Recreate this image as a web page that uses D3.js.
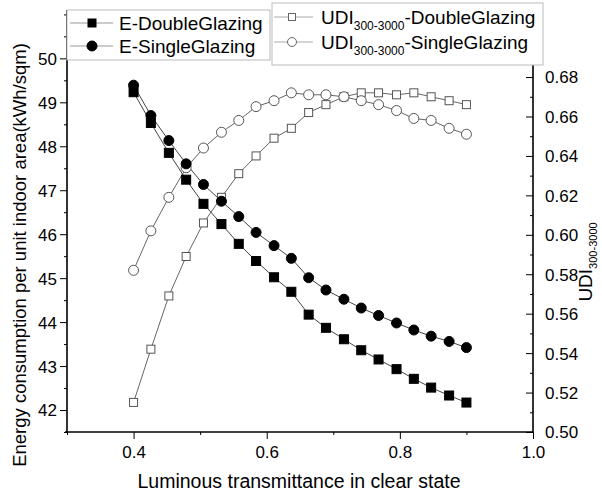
<!DOCTYPE html>
<html><head><meta charset="utf-8">
<script src="https://cdn.jsdelivr.net/npm/d3@7"></script>
<style>body{margin:0;background:#fff}svg{font-family:"Liberation Sans",Arial,sans-serif}</style>
</head><body><svg id="c" width="602" height="494"></svg>
<script>
const xVals = [0.400,0.426,0.453,0.479,0.505,0.532,0.558,0.584,0.611,0.637,0.663,0.689,0.716,0.742,0.768,0.795,0.821,0.847,0.874,0.900];
const eDouble = [49.23,48.53,47.85,47.24,46.69,46.23,45.78,45.39,45.02,44.69,44.17,43.87,43.61,43.36,43.15,42.93,42.71,42.51,42.33,42.17];
const eSingle = [49.39,48.70,48.13,47.60,47.13,46.75,46.40,46.04,45.74,45.45,45.01,44.73,44.52,44.32,44.15,43.98,43.82,43.68,43.56,43.42];
const udiDouble = [0.515,0.542,0.569,0.589,0.606,0.619,0.631,0.640,0.649,0.654,0.662,0.666,0.670,0.672,0.672,0.671,0.672,0.670,0.668,0.666];
const udiSingle = [0.582,0.602,0.619,0.634,0.644,0.652,0.658,0.665,0.668,0.672,0.671,0.671,0.670,0.668,0.666,0.663,0.659,0.658,0.654,0.651];
const xTicks = [0.4,0.6,0.8,1.0];
const leftTicks = [42,43,44,45,46,47,48,49,50];
const rightTicks = [0.50,0.52,0.54,0.56,0.58,0.60,0.62,0.64,0.66,0.68];
const xTitle = "Luminous transmittance in clear state";
const yTitle = "Energy consumption per unit indoor area(kWh/sqm)";

const svg = d3.select("#c");
const L=67,R=533,T=10,B=432;
const x = d3.scaleLinear().domain([0.3,1.0]).range([L,R]);
const yL = d3.scaleLinear().domain([41.5,51.1]).range([B,T]);
const yR = d3.scaleLinear().domain([0.5,0.714]).range([B,T]);
const isMajorX = d=>xTicks.some(t=>Math.abs(t-d)<1e-6);

// bottom axis
const gx = svg.append("g").attr("transform",`translate(0,${B})`);
gx.call(d3.axisBottom(x).tickValues(d3.range(0.3,1.001,0.1)).tickSize(3).tickFormat(""));
gx.selectAll(".tick").filter(isMajorX).select("line").attr("y2",7);
gx.selectAll(".tick").filter(isMajorX).append("text")
  .attr("y",26).attr("fill","#000").attr("font-size",17).attr("text-anchor","middle").text(d=>d.toFixed(1));
gx.select(".domain").attr("stroke-width",1.6).attr("d",`M${L-2},0H${R}`);

// left axis
const gl = svg.append("g").attr("transform",`translate(${L},0)`);
gl.call(d3.axisLeft(yL).tickValues(d3.range(41.5,51.01,0.5)).tickSize(3).tickFormat(""));
const isInt = d=>Math.abs(d-Math.round(d))<1e-6 && leftTicks.includes(Math.round(d));
gl.selectAll(".tick").filter(isInt).select("line").attr("x2",-7);
gl.selectAll(".tick").filter(isInt).append("text")
  .attr("x",-10).attr("dy","0.35em").attr("fill","#000").attr("font-size",17).attr("text-anchor","end").text(d=>Math.round(d));
gl.select(".domain").attr("stroke-width",1.6).attr("d",`M0,${T}V${B+1}`);

// right axis (ticks inward)
const isMajorR = d=>rightTicks.some(t=>Math.abs(t-d)<1e-6);
const gr = svg.append("g").attr("transform",`translate(${R},0)`);
gr.call(d3.axisRight(yR).tickValues(d3.range(0,19).map(i=>0.5+i*0.01)).tickSize(-3).tickFormat(""));
gr.selectAll(".tick").filter(isMajorR).select("line").attr("x2",-7);
gr.selectAll(".tick").filter(isMajorR).append("text")
  .attr("x",12).attr("dy","0.35em").attr("fill","#000").attr("font-size",17).attr("text-anchor","start").text(d=>d.toFixed(2));
gr.select(".domain").attr("stroke-width",1.6).attr("d",`M0,${T}V${B+1}`);

// lines
const data = (ys)=>xVals.map((v,i)=>[v,ys[i]]);
const lineL = d3.line().x(d=>x(d[0])).y(d=>yL(d[1]));
const lineR = d3.line().x(d=>x(d[0])).y(d=>yR(d[1]));
svg.append("path").attr("d",lineR(data(udiDouble))).attr("fill","none").attr("stroke","#666").attr("stroke-width",1);
svg.append("path").attr("d",lineR(data(udiSingle))).attr("fill","none").attr("stroke","#666").attr("stroke-width",1);
svg.append("path").attr("d",lineL(data(eDouble))).attr("fill","none").attr("stroke","#444").attr("stroke-width",1);
svg.append("path").attr("d",lineL(data(eSingle))).attr("fill","none").attr("stroke","#444").attr("stroke-width",1);

function sq(sel,cx,cy,s,fill,stroke){sel.append("rect").attr("x",cx-s/2).attr("y",cy-s/2).attr("width",s).attr("height",s).attr("fill",fill).attr("stroke",stroke).attr("stroke-width",1);}
function ci(sel,cx,cy,r,fill,stroke){sel.append("circle").attr("cx",cx).attr("cy",cy).attr("r",r).attr("fill",fill).attr("stroke",stroke).attr("stroke-width",1);}

const gm = svg.append("g");
data(udiDouble).forEach(d=>sq(gm,x(d[0]),yR(d[1]),8,"#fff","#555"));
data(udiSingle).forEach(d=>ci(gm,x(d[0]),yR(d[1]),5,"#fff","#555"));
data(eDouble).forEach(d=>sq(gm,x(d[0]),yL(d[1]),9,"#000","#000"));
data(eSingle).forEach(d=>ci(gm,x(d[0]),yL(d[1]),5,"#000","#000"));

// legends
const lg1 = svg.append("g");
lg1.append("rect").attr("x",67).attr("y",10).attr("width",203).attr("height",50).attr("fill","#fff").attr("stroke","#bbb");
[[23,"E-DoubleGlazing","sq"],[46,"E-SingleGlazing","ci"]].forEach(([yy,t,m])=>{
  lg1.append("line").attr("x1",70).attr("x2",113).attr("y1",yy).attr("y2",yy).attr("stroke","#999");
  if(m==="sq") sq(lg1,92,yy,8,"#000","#000"); else ci(lg1,92,yy,5,"#000","#000");
  lg1.append("text").attr("x",119).attr("y",yy+7).attr("font-size",19).text(t);
});
const lg2 = svg.append("g");
lg2.append("rect").attr("x",272).attr("y",3).attr("width",271).attr("height",62).attr("fill","#fff").attr("stroke","#bbb");
[[17,"-DoubleGlazing","sq"],[42,"-SingleGlazing","ci"]].forEach(([yy,t,m])=>{
  lg2.append("line").attr("x1",274).attr("x2",313).attr("y1",yy).attr("y2",yy).attr("stroke","#aaa");
  if(m==="sq") sq(lg2,292,yy,7,"#fff","#666"); else ci(lg2,292,yy,4.5,"#fff","#666");
  const tx = lg2.append("text").attr("x",321).attr("y",yy+7).attr("font-size",19);
  tx.append("tspan").text("UDI");
  tx.append("tspan").attr("font-size",12).attr("dy",6).text("300-3000");
  tx.append("tspan").attr("dy",-6).text(t);
});

// titles
svg.append("text").attr("x",299).attr("y",488).attr("text-anchor","middle").attr("font-size",19.5).text(xTitle);
svg.append("text").attr("transform","translate(26,255) rotate(-90)").attr("text-anchor","middle").attr("font-size",18.5).text(yTitle);
const rt = svg.append("text").attr("transform","translate(592,262) rotate(-90)").attr("text-anchor","middle").attr("font-size",19);
rt.append("tspan").text("UDI");
rt.append("tspan").attr("font-size",11).attr("dy",5).text("300-3000");
</script></body></html>
